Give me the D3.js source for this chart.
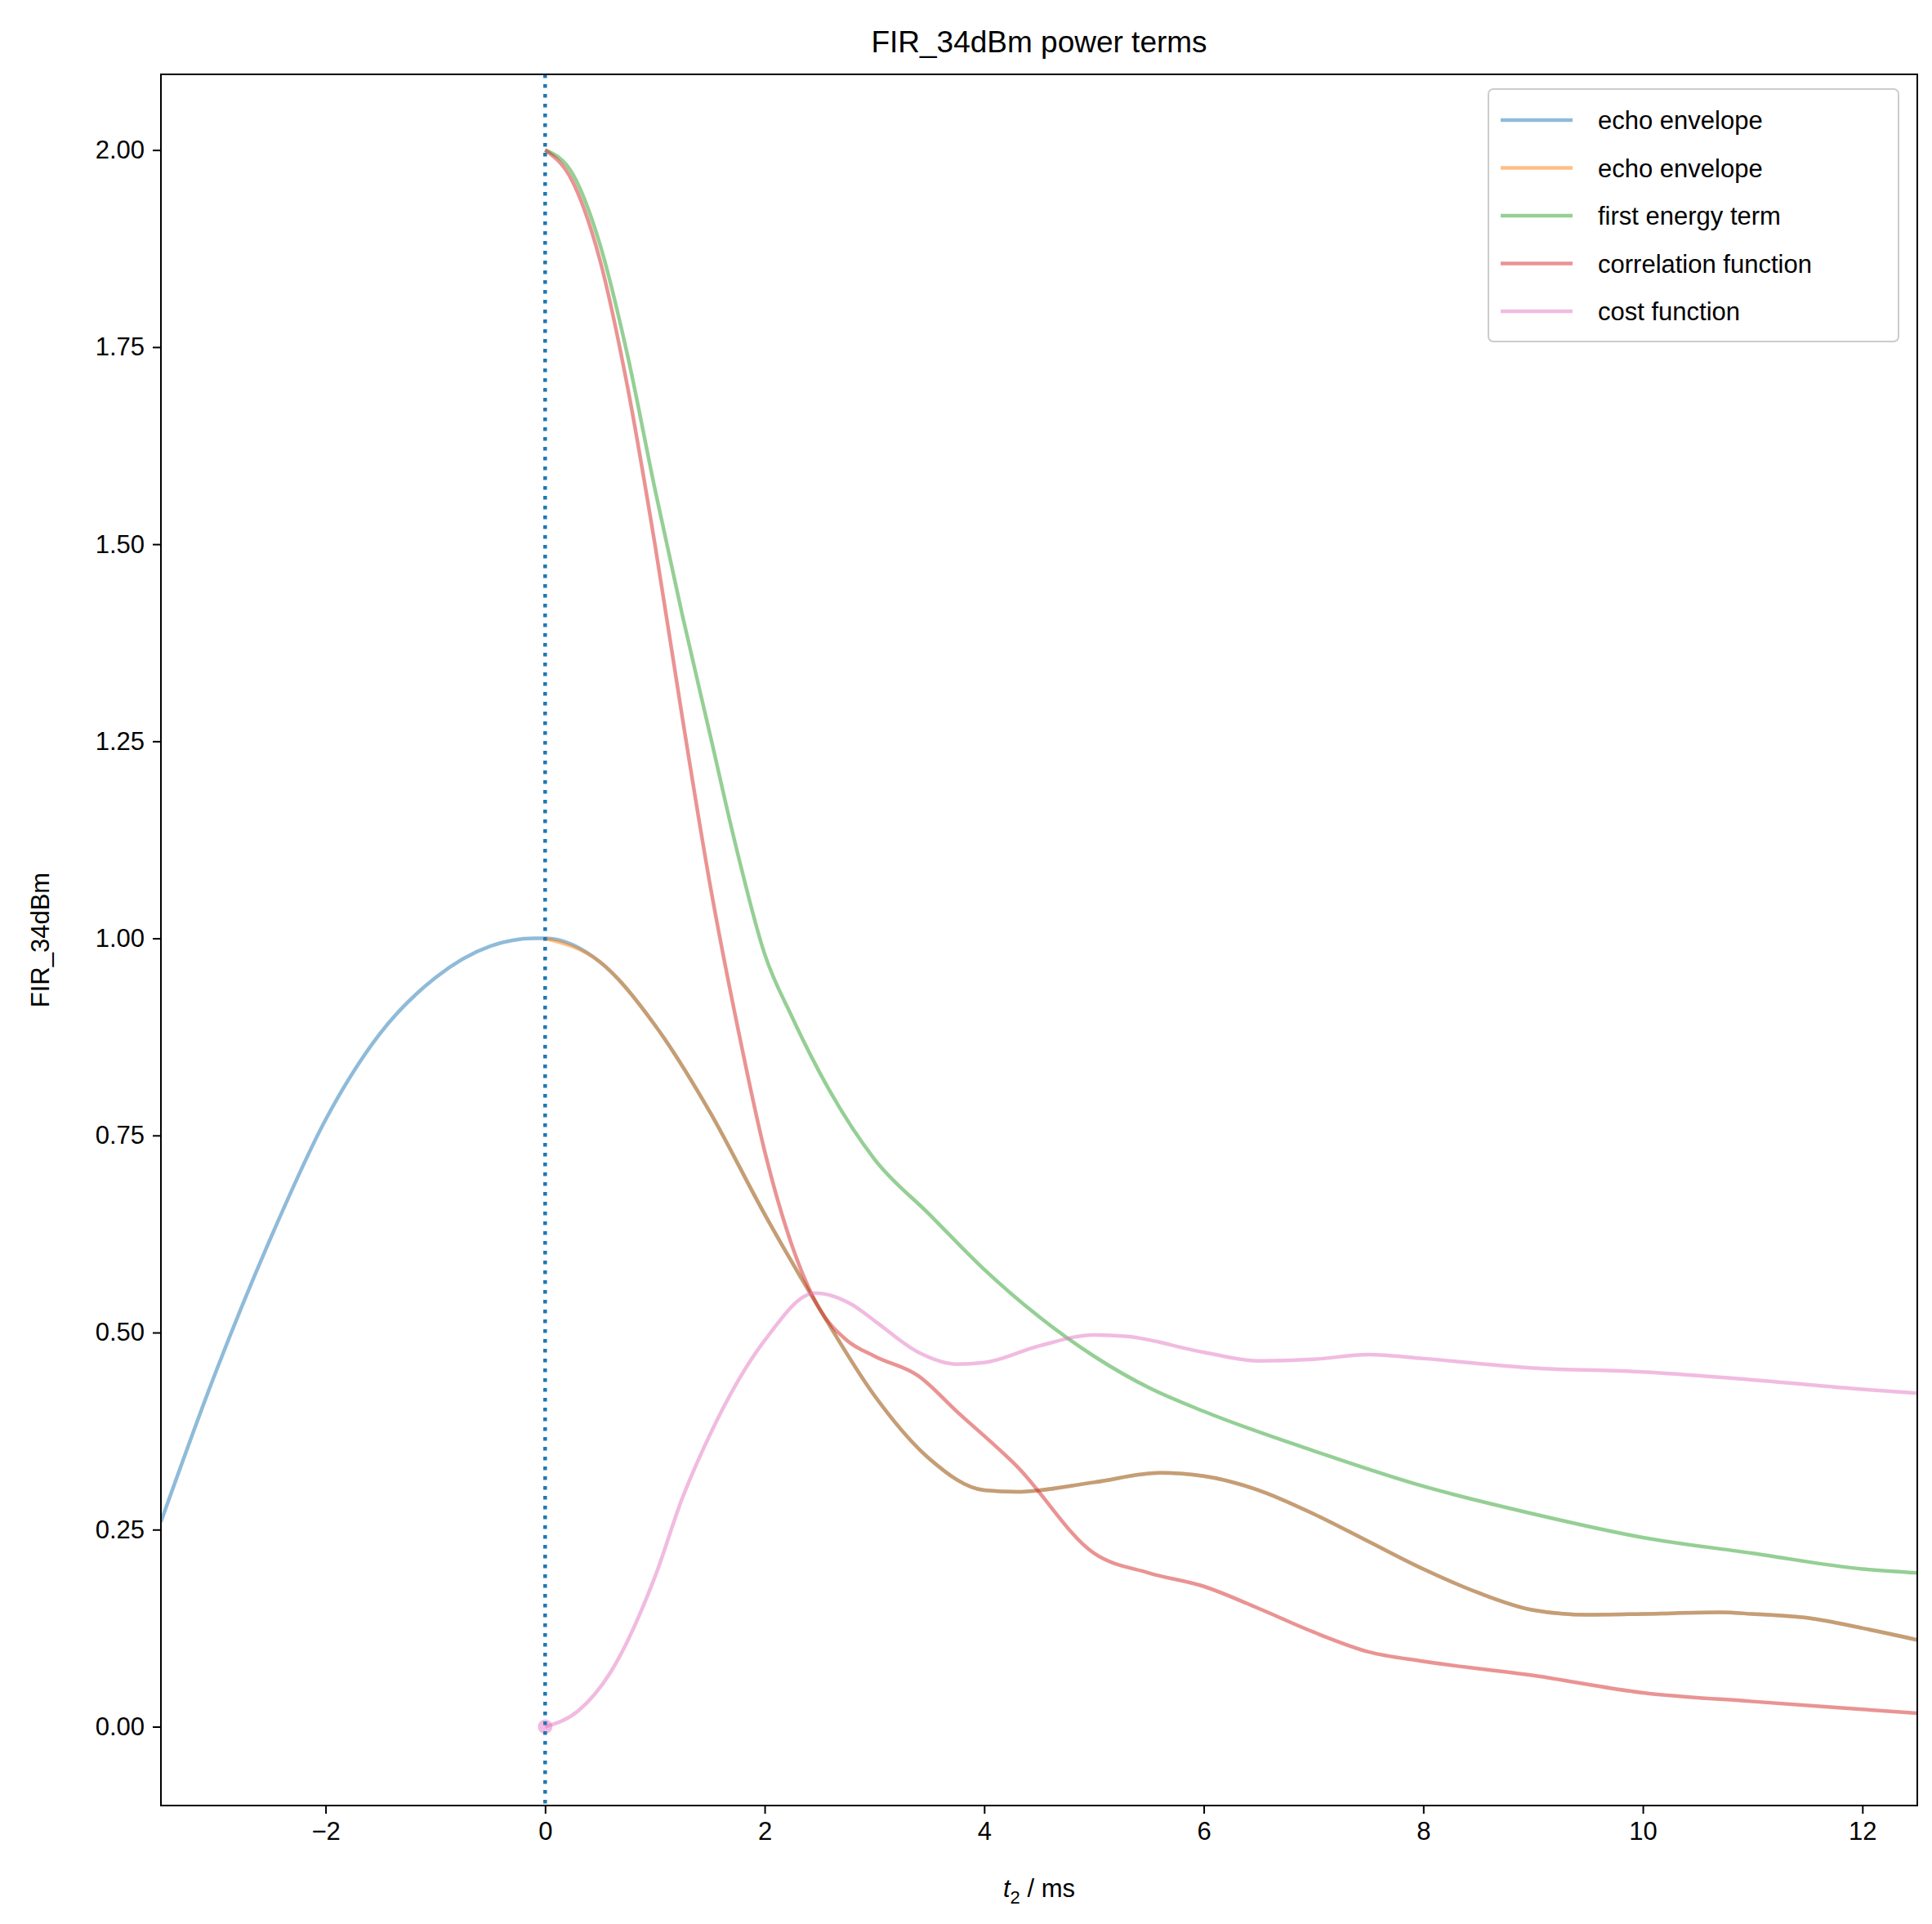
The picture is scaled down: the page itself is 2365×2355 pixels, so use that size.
<!DOCTYPE html>
<html><head><meta charset="utf-8">
<script src="https://cdn.jsdelivr.net/npm/d3@7"></script>
<style>body{margin:0;background:#fff}text{font-family:"Liberation Sans",Arial,sans-serif}</style>
</head><body>
<svg id="chart" width="2365" height="2355"></svg>
<script>
// echo envelope (full range) and its t>=0 copy
const envT = [-3.5,-3,-2.5,-2,-1.5,-1,-0.5,-0.1,0,0.5,1,1.5,2,2.5,3,3.5,4,4.3,5,5.6,6,6.5,7,7.5,8,8.5,9,9.5,10,10.7,11,11.5,12,12.5];
const envV = [0.26,0.45,0.62,0.77,0.88,0.95,0.99,1.0,1.0,0.97,0.89,0.78,0.65,0.53,0.42,0.34,0.30,0.298,0.31,0.322,0.318,0.30,0.27,0.235,0.20,0.17,0.148,0.142,0.143,0.145,0.143,0.138,0.125,0.11];
const energyT = [0,0.25,0.5,0.75,1,1.25,1.5,1.75,2,2.25,2.5,3,3.5,4,4.5,5,5.5,6,7,8,9,10,11,12,12.5];
const energyV = [2.0,1.97,1.88,1.74,1.57,1.41,1.26,1.11,0.98,0.90,0.83,0.72,0.65,0.58,0.52,0.47,0.43,0.40,0.35,0.305,0.27,0.24,0.22,0.20,0.195];
const corrT = [0,0.25,0.5,0.75,1,1.25,1.5,1.75,2,2.25,2.5,2.75,3,3.4,3.75,4.3,5,5.5,6,6.5,7,7.5,8,9,10,11,12,12.5];
const corrV = [2.0,1.96,1.86,1.70,1.50,1.28,1.07,0.89,0.73,0.61,0.53,0.49,0.47,0.445,0.40,0.33,0.22,0.195,0.178,0.15,0.12,0.095,0.083,0.065,0.043,0.032,0.022,0.017];
const costT = [0,0.3,0.6,1,1.25,1.5,2,2.46,2.8,3,3.4,3.75,4,4.5,5,5.3,6,6.5,7,7.5,8,9,10,11,12,12.5];
const costV = [0,0.02,0.07,0.19,0.29,0.37,0.49,0.55,0.535,0.515,0.475,0.46,0.462,0.483,0.497,0.495,0.475,0.464,0.466,0.472,0.467,0.455,0.45,0.44,0.428,0.423];
const xTicks = [-2,0,2,4,6,8,10,12];
const yTicks = [0,0.25,0.5,0.75,1.0,1.25,1.5,1.75,2.0];

const series = [
  {name:"echo envelope", t:envT, v:envV, color:"#1f77b4"},
  {name:"echo envelope", t:envT.filter(t=>t>=0), v:envV.filter((v,i)=>envT[i]>=0), color:"#ff7f0e"},
  {name:"first energy term", t:energyT, v:energyV, color:"#2ca02c"},
  {name:"correlation function", t:corrT, v:corrV, color:"#d62728"},
  {name:"cost function", t:costT, v:costV, color:"#e377c2"}
];

const L=197, R=2347, T=91, B=2210;
const svg = d3.select("#chart");
const x = d3.scaleLinear().domain([-3.5,12.5]).range([L,R]);
const y = d3.scaleLinear().domain([-0.1,2.096]).range([B,T]);

svg.append("defs").append("clipPath").attr("id","clip")
  .append("rect").attr("x",L).attr("y",T).attr("width",R-L).attr("height",B-T);

const line = d3.line().x(d=>x(d[0])).y(d=>y(d[1])).curve(d3.curveMonotoneX);
const g = svg.append("g").attr("clip-path","url(#clip)");
series.forEach(s=>{
  g.append("path").datum(s.t.map((t,i)=>[t,s.v[i]]))
    .attr("d",line).attr("fill","none").attr("stroke",s.color)
    .attr("stroke-opacity",0.5).attr("stroke-width",4.5);
});
g.append("circle").attr("cx",x(0)).attr("cy",y(0)).attr("r",9)
  .attr("fill","#e377c2").attr("fill-opacity",0.5);
g.append("line").attr("x1",x(0)).attr("x2",x(0)).attr("y1",T).attr("y2",B)
  .attr("stroke","#1f77b4").attr("stroke-width",4.5).attr("stroke-dasharray","4.5 7.5");

const xAxis = svg.append("g").attr("transform",`translate(0,${B})`)
  .call(d3.axisBottom(x).tickValues(xTicks).tickFormat(d=>d<0?"\u2212"+(-d):d).tickSize(10).tickPadding(10));
const yAxis = svg.append("g").attr("transform",`translate(${L},0)`)
  .call(d3.axisLeft(y).tickValues(yTicks).tickFormat(d3.format(".2f")).tickSize(10).tickPadding(10));
[xAxis,yAxis].forEach(a=>{
  a.selectAll("text").attr("font-size",31).attr("fill","#000");
  a.selectAll("line").attr("stroke","#000").attr("stroke-width",2);
  a.select(".domain").remove();
});
svg.append("rect").attr("x",L).attr("y",T).attr("width",R-L).attr("height",B-T)
  .attr("fill","none").attr("stroke","#000").attr("stroke-width",2);

svg.append("text").attr("x",(L+R)/2).attr("y",64).attr("text-anchor","middle")
  .attr("font-size",37).text("FIR_34dBm power terms");
const xl = svg.append("text").attr("x",(L+R)/2).attr("y",2322).attr("text-anchor","middle").attr("font-size",31);
xl.append("tspan").attr("font-style","italic").text("t");
xl.append("tspan").attr("font-size",22).attr("dy",8).text("2");
xl.append("tspan").attr("dy",-8).text(" / ms");
svg.append("text").attr("transform",`translate(60,${(T+B)/2}) rotate(-90)`)
  .attr("text-anchor","middle").attr("font-size",31).text("FIR_34dBm");

const lg = svg.append("g");
lg.append("rect").attr("x",1822).attr("y",109).attr("width",502).attr("height",309).attr("rx",6)
  .attr("fill","#fff").attr("fill-opacity",0.8).attr("stroke","#ccc").attr("stroke-width",2);
series.forEach((s,i)=>{
  const yy = 147 + i*58.5;
  lg.append("line").attr("x1",1837).attr("x2",1925).attr("y1",yy).attr("y2",yy)
    .attr("stroke",s.color).attr("stroke-opacity",0.5).attr("stroke-width",4.5);
  lg.append("text").attr("x",1956).attr("y",yy+11).attr("font-size",31).text(s.name);
});
</script>
</body></html>
